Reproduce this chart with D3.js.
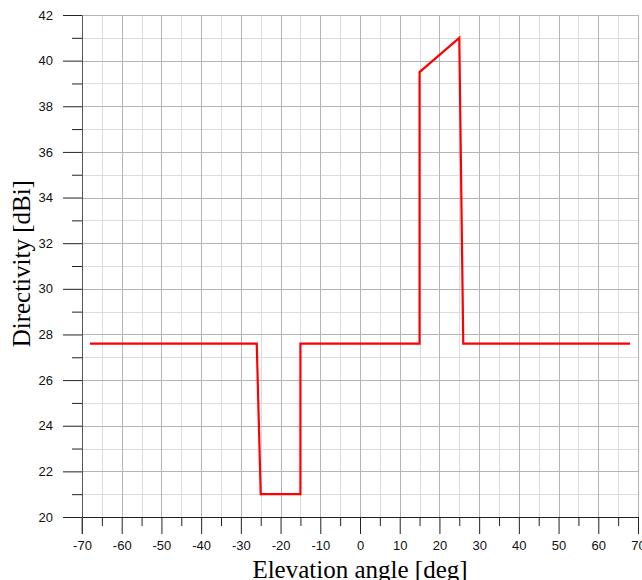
<!DOCTYPE html>
<html>
<head>
<meta charset="utf-8">
<script src="https://d3js.org/d3.v7.min.js"></script>
<style>
  body { margin: 0; background: #fff; }
  .tick text { font-family: "Liberation Sans", Arial, sans-serif; font-size: 13px; fill: #111; }
  .title { font-family: "Liberation Serif", "Times New Roman", serif; font-size: 25px; fill: #000; }
</style>
</head>
<body>
<div id="chart"></div>
<script>
// elevation angle [deg] and directivity [dBi]
var angle = [-68, -26, -25, -15, -15, 15, 15, 25, 26, 68];
var directivity = [27.6, 27.6, 21, 21, 27.6, 27.6, 39.5, 41, 27.6, 27.6];

var xTicks = [-70, -60, -50, -40, -30, -20, -10, 0, 10, 20, 30, 40, 50, 60, 70];
var yTicks = [20, 22, 24, 26, 28, 30, 32, 34, 36, 38, 40, 42];

var margin = {top: 15, right: 2, bottom: 63, left: 82},
    width = 642 - margin.left - margin.right,
    height = 580 - margin.top - margin.bottom;

var svg = d3.select("#chart")
  .append("svg")
    .attr("width", 642)
    .attr("height", 580)
  .append("g")
    .attr("transform", "translate(" + margin.left + "," + margin.top + ")");

var x = d3.scaleLinear().domain([-70, 70]).range([0, width - 2]);
var y = d3.scaleLinear().domain([20, 42]).range([height, 0]);

var minorX = d3.range(-65, 70, 10);
var minorY = d3.range(21, 42, 2);

// grid, light minor lines first
svg.append("g").selectAll("line")
  .data(minorX)
  .enter().append("line")
    .attr("x1", function(d) { return Math.round(x(d)) + 0.5 })
    .attr("x2", function(d) { return Math.round(x(d)) + 0.5 })
    .attr("y1", 0).attr("y2", height)
    .attr("stroke", "#dcdcdc");
svg.append("g").selectAll("line")
  .data(minorY)
  .enter().append("line")
    .attr("y1", function(d) { return Math.round(y(d)) + 0.5 })
    .attr("y2", function(d) { return Math.round(y(d)) + 0.5 })
    .attr("x1", 0).attr("x2", x(70))
    .attr("stroke", "#dcdcdc");
svg.append("g").selectAll("line")
  .data(xTicks.slice(1))
  .enter().append("line")
    .attr("x1", function(d) { return Math.round(x(d)) + 0.5 })
    .attr("x2", function(d) { return Math.round(x(d)) + 0.5 })
    .attr("y1", 0).attr("y2", height)
    .attr("stroke", "#b4b4b4");
svg.append("g").selectAll("line")
  .data(yTicks.slice(1))
  .enter().append("line")
    .attr("y1", function(d) { return Math.round(y(d)) + 0.5 })
    .attr("y2", function(d) { return Math.round(y(d)) + 0.5 })
    .attr("x1", 0).attr("x2", x(70))
    .attr("stroke", "#b4b4b4");

// axes: major ticks with labels, minor ticks without
svg.append("g")
  .attr("transform", "translate(0," + height + ")")
  .call(d3.axisBottom(x).tickValues(minorX).tickSize(9).tickFormat(""))
  .call(function(g) { g.select(".domain").remove() })
  .selectAll("line").attr("stroke", "#222");

svg.append("g")
  .attr("class", "xAxis")
  .attr("transform", "translate(0," + height + ")")
  .call(d3.axisBottom(x).tickValues(xTicks).tickSize(17).tickPadding(7).tickSizeOuter(0)
    .tickFormat(function(d) { return String(d) }))
  .call(function(g) {
    g.select(".domain").attr("stroke", "#222");
    g.selectAll("line").attr("stroke", "#222");
  });

svg.append("g")
  .call(d3.axisLeft(y).tickValues(minorY).tickSize(10).tickFormat(""))
  .call(function(g) { g.select(".domain").remove() })
  .selectAll("line").attr("stroke", "#222");

svg.append("g")
  .attr("class", "yAxis")
  .call(d3.axisLeft(y).tickValues(yTicks).tickSize(19).tickPadding(10).tickSizeOuter(0)
    .tickFormat(function(d) { return String(d) }))
  .call(function(g) {
    g.select(".domain").attr("stroke", "#555");
    g.selectAll("line").attr("stroke", "#222");
  });

// extend left axis line down to the bottom major tick
svg.append("line")
  .attr("x1", x(-70)).attr("x2", x(-70))
  .attr("y1", height).attr("y2", height + 17)
  .attr("stroke", "#555");

// data line
svg.append("path")
  .datum(d3.zip(angle, directivity))
  .attr("fill", "none")
  .attr("stroke", "#ff0000")
  .attr("stroke-width", 2.2)
  .attr("d", d3.line()
    .x(function(d) { return x(d[0]) })
    .y(function(d) { return y(d[1]) })
  );

// axis titles
svg.append("text")
  .attr("class", "title")
  .attr("x", x(0))
  .attr("y", height + 61)
  .attr("text-anchor", "middle")
  .text("Elevation angle [deg]");

svg.append("text")
  .attr("class", "title")
  .attr("transform", "translate(" + (-margin.left + 30) + "," + y(31.1) + ")rotate(-90)")
  .attr("text-anchor", "middle")
  .text("Directivity [dBi]");
</script>
</body>
</html>
